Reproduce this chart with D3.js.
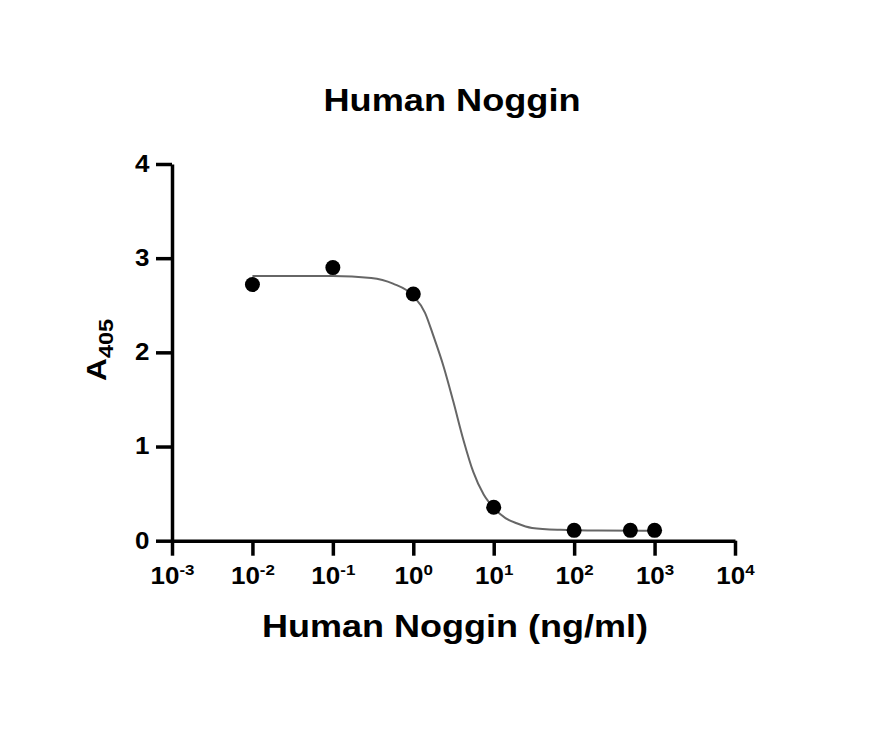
<!DOCTYPE html>
<html>
<head>
<meta charset="utf-8">
<script src="https://d3js.org/d3.v7.min.js"></script>
<style>
    body { margin: 0; background: #fff; }
    text { font-family: "Liberation Sans", Arial, sans-serif; font-weight: bold; fill: #000; }
</style>
</head>
<body>
<svg id="chart" width="870" height="731"></svg>
<script>
// measured points (ng/ml vs A405)
const concentrations = [0.01, 0.1, 1, 10, 100, 500, 1000];
const absorbance = [2.72, 2.90, 2.62, 0.355, 0.11, 0.11, 0.11];

// fitted curve
const fitConc = [0.01, 0.1, 0.3, 0.56, 1, 1.4, 1.77, 2.4, 3.14, 4.2, 5.57, 7.5, 10, 14, 19.3, 30, 66.7, 200, 1000];
const fitA405 = [2.81, 2.81, 2.79, 2.73, 2.60, 2.42, 2.18, 1.84, 1.48, 1.07, 0.73, 0.49, 0.35, 0.24, 0.185, 0.135, 0.115, 0.107, 0.105];

const xTickExponents = [-3, -2, -1, 0, 1, 2, 3, 4];
const yTicks = [0, 1, 2, 3, 4];

const chartTitle = "Human Noggin";
const xTitle = "Human Noggin (ng/ml)";

const stretch = 1.13; // the glyphs in the picture are a bit wider than Arial

const svg = d3.select("#chart");

const x = d3.scaleLog()
    .domain([1e-3, 1e4])
    .range([172, 735]);

const y = d3.scaleLinear()
    .domain([0, 4])
    .range([540.7, 164]);

// curve
svg.append("path")
    .datum(fitConc.map((c, i) => [c, fitA405[i]]))
    .attr("fill", "none")
    .attr("stroke", "#666")
    .attr("stroke-width", 2)
    .attr("d", d3.line()
        .x(d => x(d[0]))
        .y(d => y(d[1]))
        .curve(d3.curveMonotoneX));

// points
svg.append("g")
    .selectAll("circle")
    .data(concentrations)
    .enter()
    .append("circle")
    .attr("cx", d => x(d))
    .attr("cy", (d, i) => y(absorbance[i]))
    .attr("r", 7.5)
    .attr("fill", "#000");

// x axis
let xAxis = svg.append("g")
    .attr("transform", `translate(0,${y(0)})`)
    .call(d3.axisBottom(x)
        .tickValues(xTickExponents.map(e => Math.pow(10, e)))
        .tickSize(15)
        .tickSizeOuter(0)
        .tickPadding(12));

xAxis.selectAll("text").each(function (d) {
    let t = d3.select(this).text("");
    t.attr("font-size", 23)
        .attr("transform", `scale(${stretch},1)`);
    t.append("tspan").text("10");
    t.append("tspan")
        .attr("font-size", 15)
        .attr("dy", -9)
        .text(Math.round(Math.log10(d)));
});

// y axis
let yAxis = svg.append("g")
    .attr("transform", `translate(${x(1e-3)},0)`)
    .call(d3.axisLeft(y)
        .tickValues(yTicks)
        .tickSize(16)
        .tickSizeOuter(0)
        .tickPadding(4)
        .tickFormat(d3.format("d")));

yAxis.selectAll("text")
    .attr("font-size", 23)
    .attr("transform", `scale(${stretch},1)`);

svg.selectAll(".domain, .tick line")
    .attr("stroke", "#000")
    .attr("stroke-width", 3.5);
svg.selectAll(".tick text").attr("font-family", null);

// titles
svg.append("text")
    .attr("x", 452)
    .attr("y", 111)
    .attr("text-anchor", "middle")
    .attr("font-size", 32)
    .attr("textLength", 257)
    .attr("lengthAdjust", "spacingAndGlyphs")
    .text(chartTitle);

svg.append("text")
    .attr("x", 455)
    .attr("y", 637)
    .attr("text-anchor", "middle")
    .attr("font-size", 32)
    .attr("textLength", 386)
    .attr("lengthAdjust", "spacingAndGlyphs")
    .text(xTitle);

let yLabel = svg.append("text")
    .attr("transform", "translate(106,350) rotate(-90)")
    .attr("text-anchor", "middle")
    .attr("font-size", 27)
    .attr("textLength", 62)
    .attr("lengthAdjust", "spacingAndGlyphs");
yLabel.append("tspan").text("A");
yLabel.append("tspan")
    .attr("font-size", 20)
    .attr("dy", 7)
    .text("405");
</script>
</body>
</html>
